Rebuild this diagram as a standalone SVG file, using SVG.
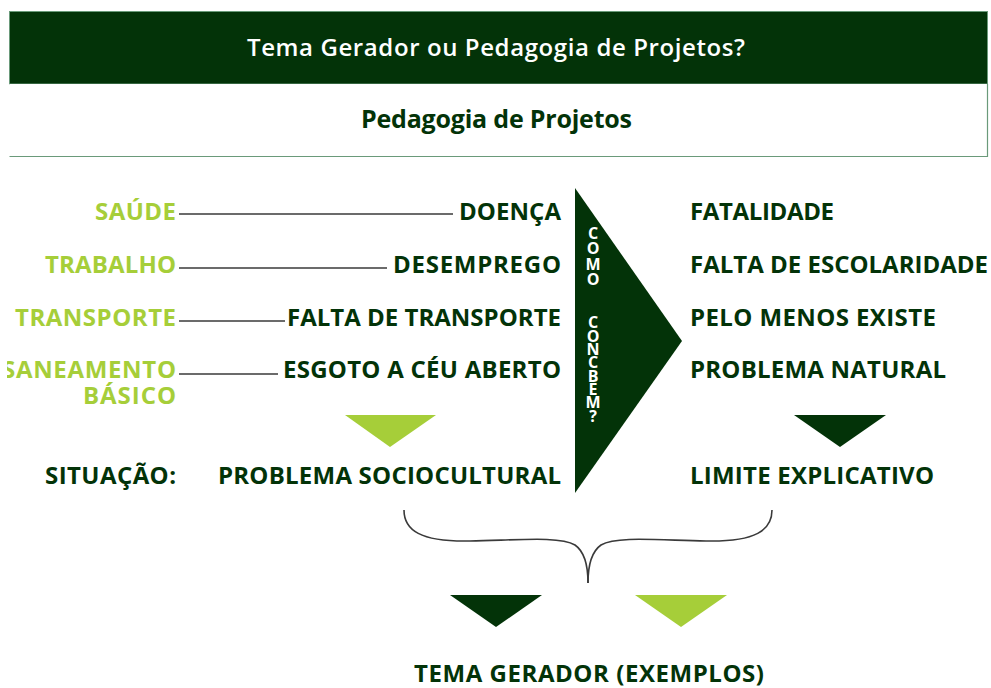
<svg xmlns="http://www.w3.org/2000/svg" width="991" height="688" viewBox="0 0 991 688">
<style>
.t{font-family:"Open Sans","Liberation Sans",sans-serif;font-weight:bold;font-size:24px}
.dk{fill:#033308}
.lt{fill:#a6ce39}
.ln{stroke:#3a3a3a;stroke-width:1.6;fill:none}
.v{font-family:"Open Sans","Liberation Sans",sans-serif;font-weight:bold;font-size:16px;fill:#ffffff;text-anchor:middle}
</style>
<defs>
<clipPath id="clipL"><rect x="7" y="0" width="984" height="688"/></clipPath>
</defs>
<g id="header">
<rect x="9.5" y="11.5" width="978" height="72.5" fill="#033308" stroke="#6a9a7a" stroke-width="1"/>
<text x="247" y="56" textLength="498" style="font-family:'Open Sans','Liberation Sans',sans-serif;font-size:24px;font-weight:600;fill:#ffffff">Tema Gerador ou Pedagogia de Projetos?</text>
</g>
<g id="subheader">
<rect x="9.5" y="84" width="978" height="72.5" fill="#ffffff"/>
<path d="M9.5,156.5 H987.5 V84" stroke="#6a9a7a" stroke-width="1.2" fill="none"/>
<text class="t dk" x="361" y="128" textLength="271" style="font-size:25px">Pedagogia de Projetos</text>
</g>
<g id="connectors">
<line class="ln" x1="179" y1="214" x2="453" y2="214"/>
<line class="ln" x1="179" y1="268" x2="387" y2="268"/>
<line class="ln" x1="179" y1="321" x2="285" y2="321"/>
<line class="ln" x1="179" y1="374" x2="278" y2="374"/>
<path class="ln" d="M404,510 C404,530 420,542 470,541 C520,540 560,536 575,545 C585,552 588,565 588,583"/>
<path class="ln" d="M772,510 C772,530 756,542 706,541 C656,540 616,536 601,545 C591,552 588,565 588,583"/>
</g>
<g id="left-labels">
<text class="t lt" x="95" y="220" textLength="81">SAÚDE</text>
<text class="t lt" x="45" y="273" textLength="131">TRABALHO</text>
<text class="t lt" x="15" y="326" textLength="161">TRANSPORTE</text>
<g clip-path="url(#clipL)"><text class="t lt" x="2" y="378" textLength="174">SANEAMENTO</text></g>
<text class="t lt" x="83" y="404" textLength="93">BÁSICO</text>
<text class="t dk" x="45" y="484" textLength="131">SITUAÇÃO:</text>
</g>
<g id="mid-labels">
<text class="t dk" x="459" y="220" textLength="102">DOENÇA</text>
<text class="t dk" x="393" y="273" textLength="168">DESEMPREGO</text>
<text class="t dk" x="287" y="326" textLength="274">FALTA DE TRANSPORTE</text>
<text class="t dk" x="283" y="378" textLength="278">ESGOTO A CÉU ABERTO</text>
<text class="t dk" x="218" y="484" textLength="343">PROBLEMA SOCIOCULTURAL</text>
</g>
<g id="como-concebem">
<polygon points="575,188 682,341 575,493" fill="#033308"/>
<text class="v"><tspan x="593" y="239">C</tspan><tspan x="593" y="254">O</tspan><tspan x="593" y="270">M</tspan><tspan x="593" y="285">O</tspan><tspan x="593" y="328">C</tspan><tspan x="593" y="342">O</tspan><tspan x="593" y="355">N</tspan><tspan x="593" y="368">C</tspan><tspan x="593" y="382">B</tspan><tspan x="593" y="395">E</tspan><tspan x="593" y="408">M</tspan><tspan x="593" y="422">?</tspan></text>
</g>
<g id="right-labels">
<text class="t dk" x="690" y="220" textLength="144">FATALIDADE</text>
<text class="t dk" x="690" y="273" textLength="298">FALTA DE ESCOLARIDADE</text>
<text class="t dk" x="690" y="326" textLength="246">PELO MENOS EXISTE</text>
<text class="t dk" x="690" y="378" textLength="256">PROBLEMA NATURAL</text>
<text class="t dk" x="690" y="484" textLength="244">LIMITE EXPLICATIVO</text>
</g>
<g id="arrows">
<polygon class="lt" points="345,415 436,415 390,447"/>
<polygon class="dk" points="794,415 886,415 840,447"/>
<polygon class="dk" points="450,595 542,595 496,627"/>
<polygon class="lt" points="635,595 727,595 681,627"/>
</g>
<g id="tema-gerador">
<text class="t dk" x="414" y="682" textLength="350">TEMA GERADOR (EXEMPLOS)</text>
</g>
</svg>
